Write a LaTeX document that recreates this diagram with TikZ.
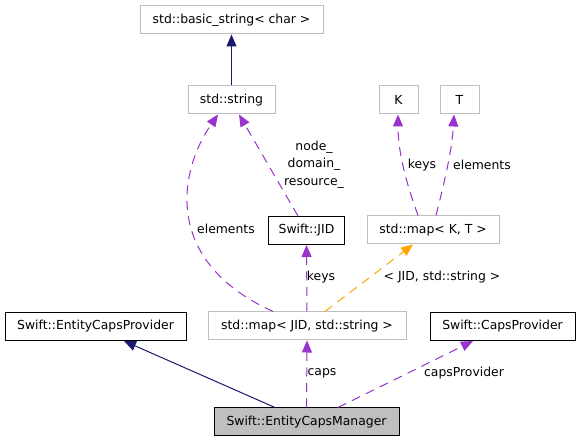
\documentclass[tikz,border=0pt]{standalone}
\usepackage{fontspec}
\setmainfont{DejaVu Sans}
\usetikzlibrary{arrows.meta}
\definecolor{navyc}{HTML}{191970}
\definecolor{purp}{HTML}{9A32CD}
\definecolor{orng}{HTML}{FFA500}
\definecolor{grayb}{HTML}{BFBFBF}
\newcommand{\dgfont}{\fontsize{12.4}{14}\selectfont}
\tikzset{
  box/.style={draw, line width=1pt, minimum height=28pt, inner sep=0pt, font=\dgfont},
  stdbox/.style={box, draw=grayb},
  swbox/.style={box, draw=black},
  lbl/.style={font=\dgfont, inner sep=0pt, align=center},
  tipx/.style={-{Triangle[length=12pt,width=10pt]}},
  inh/.style={tipx, draw=navyc, line width=1pt},
  dep/.style={tipx, draw=purp, line width=1pt, dash pattern=on 9pt off 6.5pt},
  tdep/.style={tipx, draw=orng, line width=1pt, dash pattern=on 9pt off 6.5pt},
}
\begin{document}
\begin{tikzpicture}[x=1pt,y=-1pt]
\useasboundingbox (0,0) rectangle (579,443);
\fill[white] (0,0) rectangle (579,443);
% nodes
\node[stdbox, minimum width=183pt] (bs) at (231.5,20) {std::basic\_string< char >};
\node[stdbox, minimum width=87pt] (str) at (231.5,100) {std::string};
\node[stdbox, minimum width=39pt] (K) at (398.5,100) {K};
\node[stdbox, minimum width=39pt] (T) at (459.5,100) {T};
\node[swbox, minimum width=76pt] (jid) at (306.5,230.5) {Swift::JID};
\node[stdbox, minimum width=132pt] (mkt) at (433,230) {std::map< K, T >};
\node[stdbox, minimum width=198pt] (mjid) at (307,326) {std::map< JID, std::string >};
\node[swbox, minimum width=181pt] (ecp) at (95.5,326.5) {Swift::EntityCapsProvider};
\node[swbox, minimum width=145pt] (cp) at (502.5,326.5) {Swift::CapsProvider};
\node[swbox, fill=grayb, minimum width=185pt] (mgr) at (306.5,422) {Swift::EntityCapsManager};
% edges
\draw[inh] (str.north) -- (bs.south);
\draw[dep] ([xshift=-34pt]mjid.north) .. controls +(-110,-50) and +(-40,58) .. ([xshift=-13.5pt]str.south);
\draw[dep] ([xshift=-8.5pt]jid.north) -- ([xshift=7.5pt]str.south);
\draw[dep] ([xshift=-15pt]mkt.north) .. controls +(-13,-36) and +(0,36) .. ([xshift=-0.5pt]K.south);
\draw[dep] ([xshift=3pt]mkt.north) .. controls +(9,-36) and +(-2,36) .. ([xshift=-5.5pt]T.south);
\draw[dep] (mjid.north) -- (jid.south);
\draw[tdep] ([xshift=18pt]mjid.north) -- ([xshift=-20pt]mkt.south);
\draw[inh] ([xshift=-31.5pt]mgr.north) -- ([xshift=28.5pt]ecp.south);
\draw[dep] (mgr.north) -- (mjid.south);
\draw[dep] ([xshift=31.5pt]mgr.north) -- ([xshift=-29.5pt]cp.south);
% labels
\node[lbl] (l1) at (226,229) {elements};
\node[lbl, font=\fontsize{12.4}{17.5}\selectfont] (l2) at (314,164.5) {node\_\\domain\_\\resource\_};
\node[lbl] (l3) at (422,165) {keys};
\node[lbl] (l4) at (482,165) {elements};
\node[lbl] (l5) at (321,277) {keys};
\node[lbl] (l6) at (442,277) {< JID, std::string >};
\node[lbl] (l7) at (322,373) {caps};
\node[lbl] (l8) at (464,373) {capsProvider};
\end{tikzpicture}
\end{document}
